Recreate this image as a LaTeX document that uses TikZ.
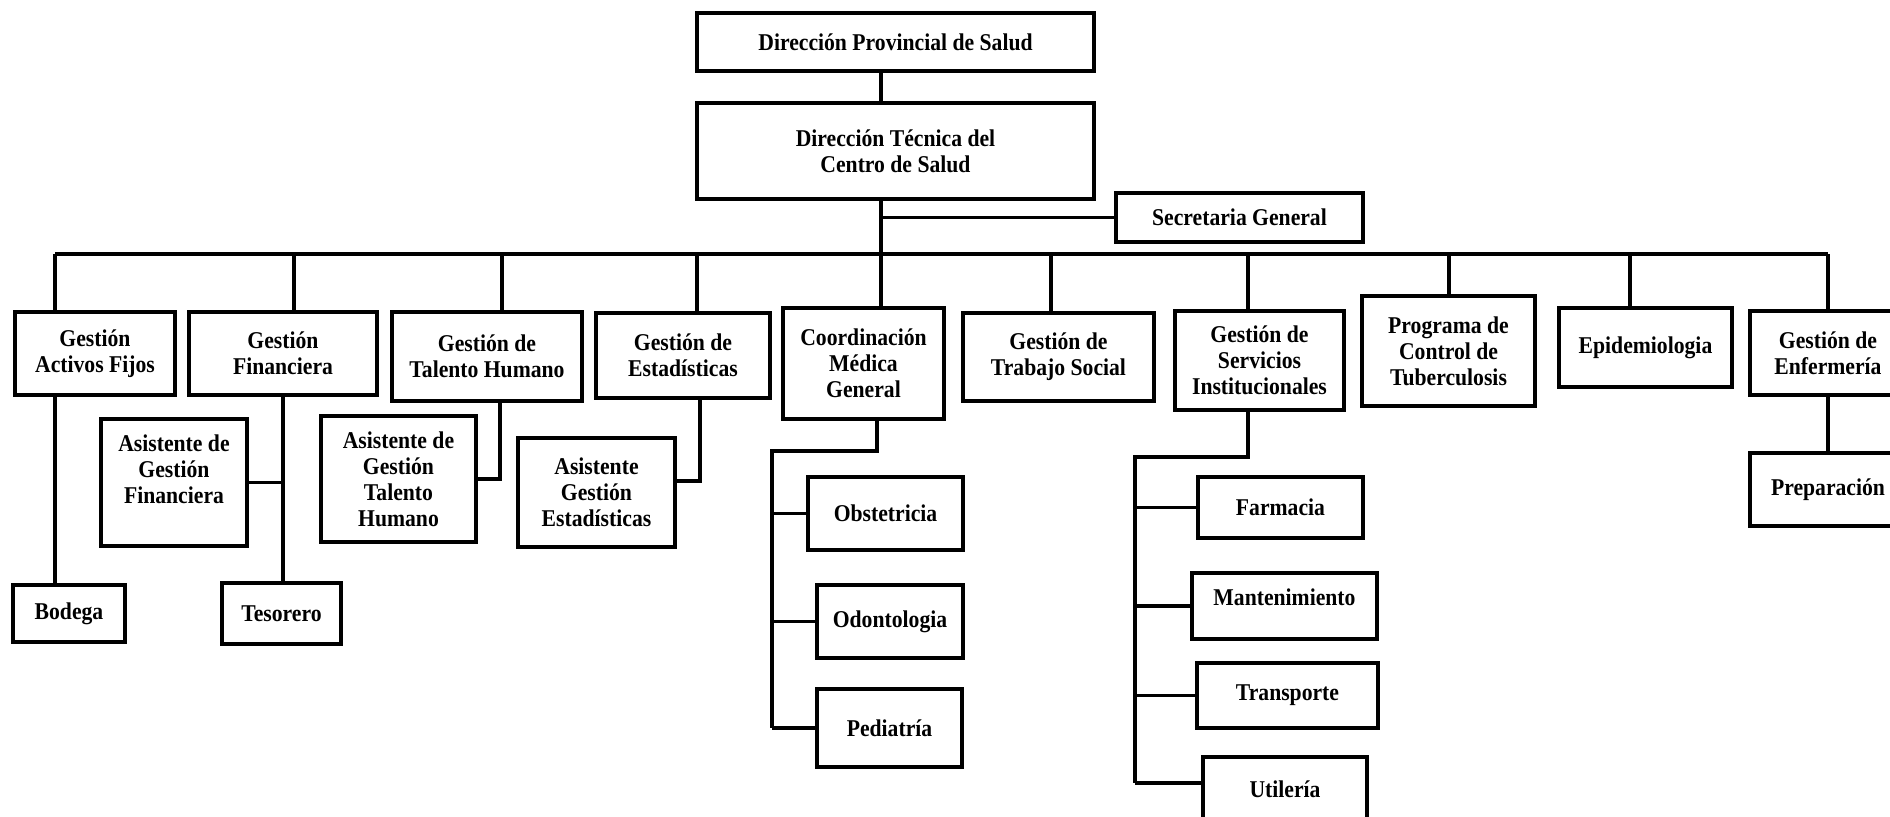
\documentclass[tikz,border=0pt]{standalone}
\usepackage{fontspec}
\setmainfont[FakeStretch=0.9]{Liberation Serif}
\tikzset{
  caja/.style={draw, line width=1.9pt, align=center, inner sep=0pt,
    font=\bfseries\fontsize{13.7}{14.8}\selectfont},
  linea/.style={line width=1.9pt}
}
\begin{document}
\begin{tikzpicture}
\useasboundingbox (0,0) rectangle (37.8,-16.34);
\clip (0,0) rectangle (37.8,-16.34);
% cabecera
\node[caja, minimum width=7.94cm, minimum height=1.16cm] (dps) at (17.91,-0.84) {Dirección Provincial de Salud};
\node[caja, minimum width=7.94cm, minimum height=1.92cm] (dtc) at (17.91,-3.02) {Dirección Técnica del\\Centro de Salud};
\node[caja, minimum width=4.94cm, minimum height=0.98cm] (sec) at (24.79,-4.35) {Secretaria General};
% primer nivel
\node[caja, minimum width=3.2cm, minimum height=1.66cm] (act) at (1.9,-7.07) {Gestión\\Activos Fijos};
\node[caja, minimum width=3.76cm, minimum height=1.66cm] (fin) at (5.66,-7.07) {Gestión\\Financiera};
\node[caja, minimum width=3.8cm, minimum height=1.78cm] (tal) at (9.74,-7.13) {Gestión de\\Talento Humano};
\node[caja, minimum width=3.48cm, minimum height=1.7cm] (est) at (13.66,-7.11) {Gestión de\\Estadísticas};
\node[caja, minimum width=3.22cm, minimum height=2.22cm] (coo) at (17.27,-7.27) {Coordinación\\Médica\\General};
\node[caja, minimum width=3.82cm, minimum height=1.76cm] (tra) at (21.17,-7.14) {Gestión de\\Trabajo Social};
\node[caja, minimum width=3.38cm, minimum height=1.98cm] (ser) at (25.19,-7.21) {Gestión de\\Servicios\\Institucionales};
\node[caja, minimum width=3.46cm, minimum height=2.2cm] (pro) at (28.97,-7.02) {Programa de\\Control de\\Tuberculosis};
\node[caja, minimum width=3.46cm, minimum height=1.58cm] (epi) at (32.91,-6.95) {Epidemiologia};
\node[caja, minimum width=3.12cm, minimum height=1.68cm] (enf) at (36.56,-7.06) {Gestión de\\Enfermería};
% segundo nivel
\node[caja, minimum width=2.24cm, minimum height=1.14cm] (bod) at (1.38,-12.27) {Bodega};
\node[caja, minimum width=2.92cm, minimum height=2.54cm] (afi) at (3.48,-9.65) {Asistente de\\Gestión\\Financiera\\~};
\node[caja, minimum width=2.38cm, minimum height=1.22cm] (tes) at (5.63,-12.27) {Tesorero};
\node[caja, minimum width=3.1cm, minimum height=2.52cm] (ata) at (7.97,-9.58) {Asistente de\\Gestión\\Talento\\Humano};
\node[caja, minimum width=3.14cm, minimum height=2.18cm] (aes) at (11.93,-9.85) {Asistente\\Gestión\\Estadísticas};
\node[caja, minimum width=3.1cm, minimum height=1.46cm] (obs) at (17.71,-10.27) {Obstetricia};
\node[caja, minimum width=2.92cm, minimum height=1.46cm] (odo) at (17.8,-12.43) {Odontologia};
\node[caja, minimum width=2.9cm, minimum height=1.56cm] (ped) at (17.79,-14.56) {Pediatría};
\node[caja, minimum width=3.3cm, minimum height=1.22cm] (far) at (25.61,-10.15) {Farmacia};
\node[caja, minimum width=3.7cm, minimum height=1.32cm] (man) at (25.69,-12.12) {Mantenimiento\\[-0.16cm]~};
\node[caja, minimum width=3.62cm, minimum height=1.3cm] (trp) at (25.75,-13.91) {Transporte};
\node[caja, minimum width=3.28cm, minimum height=1.3cm] (uti) at (25.7,-15.79) {Utilería};
\node[caja, minimum width=3.12cm, minimum height=1.46cm] (pre) at (36.56,-9.79) {Preparación};
% lineas
\coordinate (tronco) at (17.62,-5.08);
\coordinate (b1) at (1.1,-5.08);
\coordinate (b2) at (5.88,-5.08);
\coordinate (b3) at (10.04,-5.08);
\coordinate (b4) at (13.94,-5.08);
\coordinate (b6) at (21.02,-5.08);
\coordinate (b7) at (24.96,-5.08);
\coordinate (b8) at (28.98,-5.08);
\coordinate (b9) at (32.6,-5.08);
\coordinate (b10) at (36.56,-5.08);
\draw[linea] (tronco |- dps.south) -- (tronco |- dtc.north);
\draw[linea] (tronco |- dtc.south) -- (tronco |- coo.north);
\draw[linea] (tronco |- sec.west) -- (sec.west);
\draw[linea] (b1) -- (b10);
\foreach \b/\n in {b1/act, b2/fin, b3/tal, b4/est, b6/tra, b7/ser, b8/pro, b9/epi, b10/enf}
  \draw[linea] (\b) -- (\b |- \n.north);
\draw[linea] (b1 |- act.south) -- (b1 |- bod.north);
\draw[linea] (fin.south) -- (fin.south |- tes.north);
\draw[linea] (afi.east) -- (afi.east -| fin.south);
\coordinate (t1) at (10.0,-9.58);
\draw[linea] (tal.south -| t1) |- (ata.east);
\coordinate (e1) at (14.0,-9.62);
\draw[linea] (est.south -| e1) |- (aes.east |- e1);
\coordinate (c1) at (17.54,-9.02);
\coordinate (c2) at (15.44,-9.02);
\draw[linea] (coo.south -| c1) -- (c1) -- (c2) -- (c2 |- ped.west);
\foreach \n in {obs, odo, ped}
  \draw[linea] (c2 |- \n.west) -- (\n.west);
\coordinate (s1) at (24.96,-9.14);
\coordinate (s2) at (22.7,-9.14);
\coordinate (u1) at (22.7,-15.66);
\draw[linea] (ser.south -| s1) -- (s1) -- (s2) -- (u1);
\foreach \n in {far, man, trp}
  \draw[linea] (s2 |- \n.west) -- (\n.west);
\draw[linea] (u1) -- (u1 -| uti.west);
\draw[linea] (enf.south) -- (pre.north);
\end{tikzpicture}
\end{document}
